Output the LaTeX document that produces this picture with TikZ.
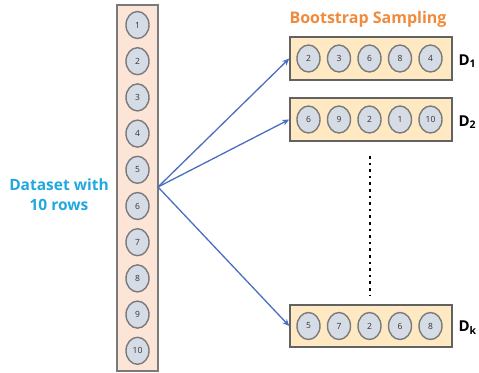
\documentclass[tikz,border=0pt]{standalone}
\usepackage{fontspec}
\setmainfont{Open Sans}
\usetikzlibrary{arrows.meta,shapes.geometric}
\definecolor{colfill}{HTML}{FCE4D6}
\definecolor{rowfill}{HTML}{FFE9C2}
\definecolor{circfill}{HTML}{D6DCE5}
\definecolor{circdraw}{HTML}{7A7A7A}
\definecolor{arrowblue}{HTML}{4A6FC0}
\definecolor{titleorange}{HTML}{F08A3C}
\definecolor{dsblue}{HTML}{20A8E0}
\begin{document}
\begin{tikzpicture}[x=1pt,y=-1pt,
  colbox/.style={draw=circdraw, line width=1.5pt, fill=colfill},
  rowbox/.style={draw=circdraw!80!black, line width=1.5pt, fill=rowfill},
  item/.style={ellipse, draw=circdraw, line width=1.4pt, fill=circfill, minimum width=23pt, minimum height=27pt, inner sep=0pt, font=\fontsize{8.5}{9}\selectfont, text=black!80},
  conn/.style={draw=arrowblue, line width=1.3pt, -{Stealth[length=7pt,width=6pt]}},
  dlabel/.style={font=\fontsize{15}{17}\selectfont\bfseries, anchor=west}
]
\useasboundingbox[fill=white] (0,0) rectangle (479,372);
% left column
\draw[colbox] (117,5) rectangle (158,371);
\foreach \i in {1,...,10} {
  \node[item] (c\i) at (137.5,{25+36.2*(\i-1)}) {\i};
}
\node[font=\fontsize{15.5}{20}\selectfont\bfseries, text=dsblue, align=center] (ds) at (59,195) {Dataset with\\10 rows};
% title
\node[font=\fontsize{16}{18}\selectfont\bfseries, text=titleorange] (title) at (368,19) {Bootstrap Sampling};
% rows
\node[rowbox, minimum width=162pt, minimum height=43pt, inner sep=0pt] (r1) at (371,58.5) {};
\node[rowbox, minimum width=162pt, minimum height=43pt, inner sep=0pt] (r2) at (371,119.5) {};
\node[rowbox, minimum width=162pt, minimum height=42pt, inner sep=0pt] (rk) at (371,326) {};
\foreach \v [count=\j] in {2,3,6,8,4} {
  \node[item] (a\j) at ({278+30.5*\j},58.5) {\v};
}
\foreach \v [count=\j] in {6,9,2,1,10} {
  \node[item] (b\j) at ({278+30.5*\j},119.5) {\v};
}
\foreach \v [count=\j] in {5,7,2,6,8} {
  \node[item] (k\j) at ({278+30.5*\j},326) {\v};
}
\node[dlabel] (d1) at (455,61) {D\textsubscript{1}};
\node[dlabel] (d2) at (455,122) {D\textsubscript{2}};
\node[dlabel] (dk) at (455,328) {D\textsubscript{k}};
% dotted
\coordinate (dt) at (370,156);
\coordinate (db) at (370,296);
\draw[line width=2.6pt, dash pattern=on 2.6pt off 4pt] (dt) -- (db);
% arrows
\coordinate (src) at (158,187);
\draw[conn] (src) -- (r1.west);
\draw[conn] (src) -- (r2.west);
\draw[conn] (src) -- (rk.west);
\end{tikzpicture}
\end{document}
